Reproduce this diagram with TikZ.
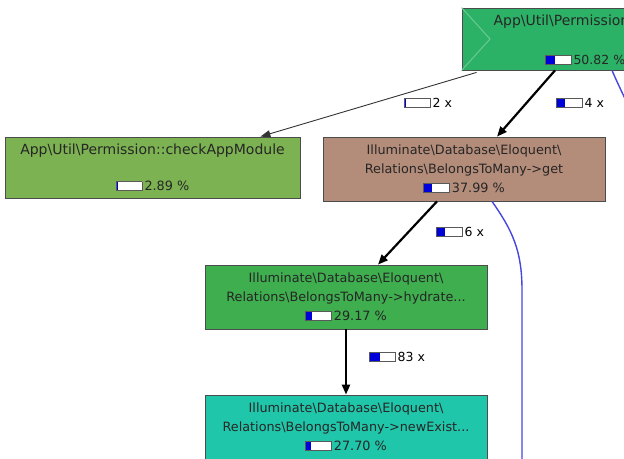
\documentclass[tikz,border=0pt]{standalone}
\usepackage{fontspec}
\setmainfont{DejaVu Sans}
\usetikzlibrary{calc,arrows.meta}

\definecolor{rootgreen}{RGB}{44,178,102}
\definecolor{modgreen}{RGB}{124,178,82}
\definecolor{getbrown}{RGB}{180,140,122}
\definecolor{hydgreen}{RGB}{62,174,78}
\definecolor{newteal}{RGB}{32,198,170}
\definecolor{callblue}{RGB}{70,70,225}

\newcommand{\bs}{\textbackslash}
\newcommand{\ratebar}[1]{{\setlength{\fboxsep}{0pt}\setlength{\fboxrule}{0.8pt}%
  \fcolorbox{black!65}{white}{\textcolor{blue!85!black}{\rule{#1}{8.5pt}}\rule{0pt}{8.5pt}\hspace{\dimexpr 25pt-#1\relax}}}}

\begin{document}
\begin{tikzpicture}[x=1pt, y=-1pt,
	fnbox/.style={draw=black!70, line width=0.8pt, minimum width=282, minimum height=64,
		align=center, text=black!85, font=\fontsize{12.8}{19}\selectfont},
	calledge/.style={draw=black!80, line width=0.9pt, -{Triangle[length=10pt,width=7pt]}},
	hotedge/.style={draw=black, line width=2.2pt, -{Triangle[length=10pt,width=8pt]}},
	countlabel/.style={inner sep=1pt, font=\fontsize{12.5}{14}\selectfont},
	backedge/.style={draw=callblue, line width=1.4pt}]
	\useasboundingbox (0,0) rectangle (624,458);
	\clip (0,0) rectangle (624,458);
	% function boxes
	\node[fnbox, fill=rootgreen, minimum width=234, minimum height=62] (root) at (579,39) {};
	\draw[rootgreen!70!white, line width=1pt] (root.north west) -- (490,39) -- (root.south west);
	\node[anchor=west, text=black!85, font=\fontsize{14}{16}\selectfont] (roottitle) at (490,22) {App\bs Util\bs Permission};
	\node[countlabel, text=black!85] (rootpct) at (585,60) {\ratebar{9pt}\,50.82 \%};
	\node[fnbox, fill=modgreen, minimum width=295, minimum height=61] (check) at (152.5,167.5)
		{\fontsize{14}{16}\selectfont App\bs Util\bs Permission::checkAppModule\\[17pt]\fontsize{12.8}{16}\selectfont\ratebar{0.5pt}\,2.89 \%};
	\node[fnbox, fill=getbrown] (get) at (464,169)
		{Illuminate\bs Database\bs Eloquent\bs\\Relations\bs BelongsToMany->get\\\ratebar{8pt}\,37.99 \%};
	\node[fnbox, fill=hydgreen] (hydrate) at (346,297)
		{Illuminate\bs Database\bs Eloquent\bs\\Relations\bs BelongsToMany->hydrate...\\\ratebar{6pt}\,29.17 \%};
	\node[fnbox, fill=newteal] (newexist) at (346,427)
		{Illuminate\bs Database\bs Eloquent\bs\\Relations\bs BelongsToMany->newExist...\\\ratebar{5pt}\,27.70 \%};
	% calls
	\draw[calledge] ($(root.south west)+(15,2)$) -- ($(check.north east)+(-40,0)$);
	\draw[hotedge] ($(root.south)+(-24,0)$) -- ($(get.north)+(33,0)$);
	\draw[hotedge] ($(get.south)+(-27,0)$) -- ($(hydrate.north)+(32,0)$);
	\draw[hotedge] (hydrate.south) -- (newexist.north);
	\coordinate (downend) at (522,470);
	\coordinate (rightend) at (640,130);
	\draw[backedge] ($(get.south)+(28,0)$) .. controls (512,230) and (522,250) .. (522,290) -- (downend);
	\draw[backedge] ($(root.south)+(33,0)$) .. controls (618,84) .. (rightend);
	% call counts
	\node[countlabel] (c2) at (428,103) {\ratebar{1pt}\,2 x};
	\node[countlabel] (c4) at (580,103) {\ratebar{8pt}\,4 x};
	\node[countlabel] (c6) at (460,232) {\ratebar{8pt}\,6 x};
	\node[countlabel] (c83) at (397,357) {\ratebar{10pt}\,83 x};
\end{tikzpicture}
\end{document}
